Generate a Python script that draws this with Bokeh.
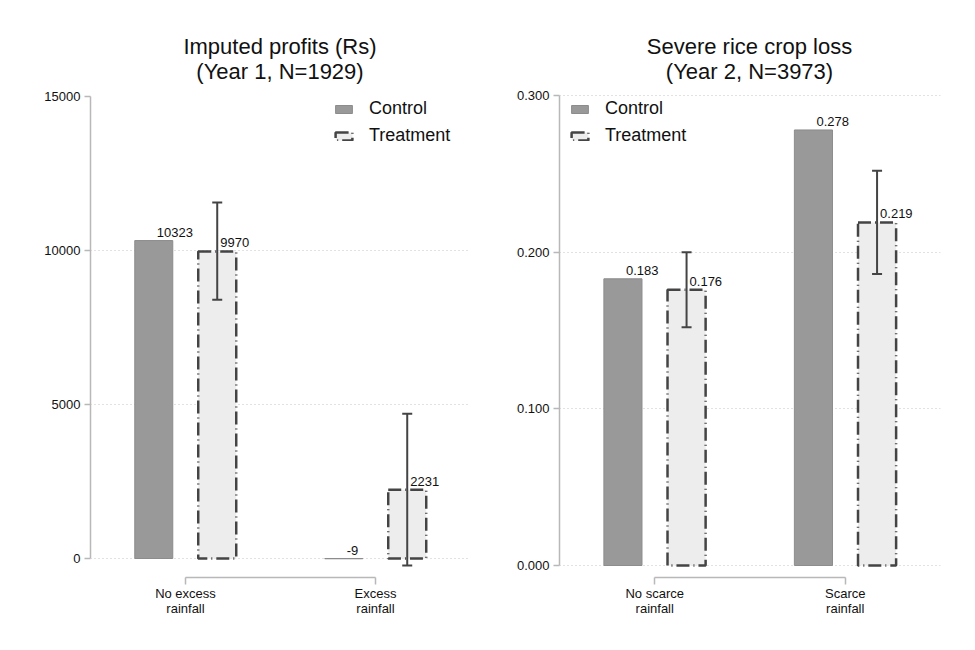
from bokeh.plotting import figure
from bokeh.layouts import row, column
from bokeh.models import (ColumnDataSource, Range1d, FixedTicker, Div, Whisker,
                          TeeHead, PrintfTickFormatter)
from bokeh.core.properties import value
from bokeh.embed import file_html
from bokeh.resources import INLINE

# ---- data -------------------------------------------------------------
profit_groups = ["No excess\nrainfall", "Excess\nrainfall"]
profit_control = [10323, -9]
profit_treatment = [9970, 2231]
profit_ci_low = [8400, -230]
profit_ci_high = [11560, 4700]

loss_groups = ["No scarce\nrainfall", "Scarce\nrainfall"]
loss_control = [0.183, 0.278]
loss_treatment = [0.176, 0.219]
loss_ci_low = [0.152, 0.186]
loss_ci_high = [0.200, 0.252]

profit_ticks = [0, 5000, 10000, 15000]
loss_ticks = [0.0, 0.1, 0.2, 0.3]

FONT_NAME = "Liberation Sans"
CONTROL_FILL = "#999999"
TREAT_FILL = "#ededed"
DARK = "#444444"
AXIS_GREY = "#b8b8b8"
OFFSET = 0.167
BAR_W = 0.2
HEADER_H = 84


def panel(title1, title2, groups, ctrl, treat, lo, hi, ticks, grid_ticks,
          y_range, fmt, tick_fmt, legend_x, width, border_left, border_right):
    p = figure(width=width, height=650 - HEADER_H, output_backend="svg",
               toolbar_location=None,
               x_range=Range1d(0.5, 2.5), y_range=Range1d(*y_range),
               min_border_left=border_left, min_border_right=border_right,
               min_border_top=2, min_border_bottom=73)
    p.outline_line_color = None
    p.background_fill_color = "white"

    cats = [1, 2]
    xc = [c - OFFSET for c in cats]
    xt = [c + OFFSET for c in cats]

    src_c = ColumnDataSource(dict(x=xc, top=ctrl, lab=[fmt(v) for v in ctrl]))
    src_t = ColumnDataSource(dict(x=xt, top=treat, lab=[fmt(v) for v in treat],
                                  lo=lo, hi=hi))

    p.vbar(x="x", top="top", bottom=0, width=BAR_W, source=src_c,
           fill_color=CONTROL_FILL, line_color="#8c8c8c", line_width=1,
           legend_label="Control")
    p.vbar(x="x", top="top", bottom=0, width=BAR_W, source=src_t,
           fill_color=TREAT_FILL, line_color=DARK, line_width=2.5,
           line_dash="13 4 1 4", legend_label="Treatment")

    # confidence intervals drawn over the treatment bars
    p.add_layout(Whisker(source=src_t, base="x", lower="lo", upper="hi",
                         dimension="height", line_color=DARK, line_width=2,
                         level="overlay",
                         lower_head=TeeHead(size=10, line_color=DARK, line_width=2),
                         upper_head=TeeHead(size=10, line_color=DARK, line_width=2)))

    # value labels
    for src in (src_c, src_t):
        p.text(x="x", y="top", text="lab", source=src, text_align="left",
               text_baseline="bottom", x_offset=3, y_offset=-4,
               text_font=value(FONT_NAME), text_font_size="13px",
               text_color="#111111", level="overlay")

    # axes
    p.xaxis.ticker = FixedTicker(ticks=cats)
    p.xaxis.major_label_overrides = {1: groups[0], 2: groups[1]}
    p.xaxis.bounds = (1, 2)
    p.xaxis.axis_line_color = AXIS_GREY
    p.xaxis.axis_line_width = 1.5
    p.xaxis.major_tick_line_color = AXIS_GREY
    p.xaxis.major_tick_line_width = 1.5
    p.xaxis.major_tick_out = 7
    p.xaxis.major_tick_in = 0
    p.xaxis.minor_tick_line_color = None
    p.xaxis.major_label_standoff = 1
    p.xaxis.major_label_text_font = FONT_NAME
    p.xaxis.major_label_text_font_size = "13px"
    p.xaxis.major_label_text_line_height = 1.0
    p.xaxis.major_label_text_color = "#111111"

    p.yaxis.ticker = FixedTicker(ticks=ticks)
    p.yaxis.formatter = PrintfTickFormatter(format=tick_fmt)
    p.yaxis.bounds = (ticks[0], ticks[-1])
    p.yaxis.axis_line_color = AXIS_GREY
    p.yaxis.axis_line_width = 1.5
    p.yaxis.major_tick_line_color = AXIS_GREY
    p.yaxis.major_tick_line_width = 1.5
    p.yaxis.major_tick_out = 6
    p.yaxis.major_tick_in = 0
    p.yaxis.minor_tick_line_color = None
    p.yaxis.major_label_standoff = 4
    p.yaxis.major_label_text_font = FONT_NAME
    p.yaxis.major_label_text_font_size = "13px"
    p.yaxis.major_label_text_color = "#111111"

    p.xgrid.grid_line_color = None
    p.ygrid.ticker = FixedTicker(ticks=grid_ticks)
    p.ygrid.grid_line_color = "#c4c4c4"
    p.ygrid.grid_line_dash = "1 3"
    p.ygrid.grid_line_width = 1

    lg = p.legend[0]
    lg.location = (legend_x, 431)
    lg.border_line_color = None
    lg.background_fill_color = "white"
    lg.background_fill_alpha = 1
    lg.label_text_font = FONT_NAME
    lg.label_text_font_size = "18px"
    lg.label_text_color = "#111111"
    lg.glyph_width = 21
    lg.glyph_height = 10
    lg.label_height = 21
    lg.label_standoff = 15
    lg.spacing = 6
    lg.padding = 6
    lg.margin = 0

    # two-line heading centred over the plotting frame
    frame_w = width - border_left - border_right
    head = Div(text=f"{title1}<br>{title2}", width=frame_w, height=HEADER_H,
               margin=(0, border_right, 0, border_left),
               styles={"font-family": FONT_NAME, "font-size": "22px",
                       "line-height": "25px", "text-align": "center",
                       "color": "#111111", "padding-top": "34px",
                       "box-sizing": "border-box", "width": f"{frame_w}px"})
    return column(head, p, spacing=0)


def fmt_int(v):
    return str(int(v))


def fmt_frac(v):
    return "%.3f" % v


left = panel("Imputed profits (Rs)", "(Year 1, N=1929)", profit_groups,
             profit_control, profit_treatment, profit_ci_low, profit_ci_high,
             profit_ticks, profit_ticks[:-1], (-617, 15325), fmt_int, "%d",
             legend_x=243, width=490, border_left=90, border_right=20)
right = panel("Severe rice crop loss", "(Year 2, N=3973)", loss_groups,
              loss_control, loss_treatment, loss_ci_low, loss_ci_high,
              loss_ticks, loss_ticks, (-0.00766, 0.30574), fmt_frac, "%.3f",
              legend_x=10, width=485, border_left=69, border_right=35)

layout = row(left, right, spacing=0)
open("out.html", "w").write(file_html(layout, INLINE))
